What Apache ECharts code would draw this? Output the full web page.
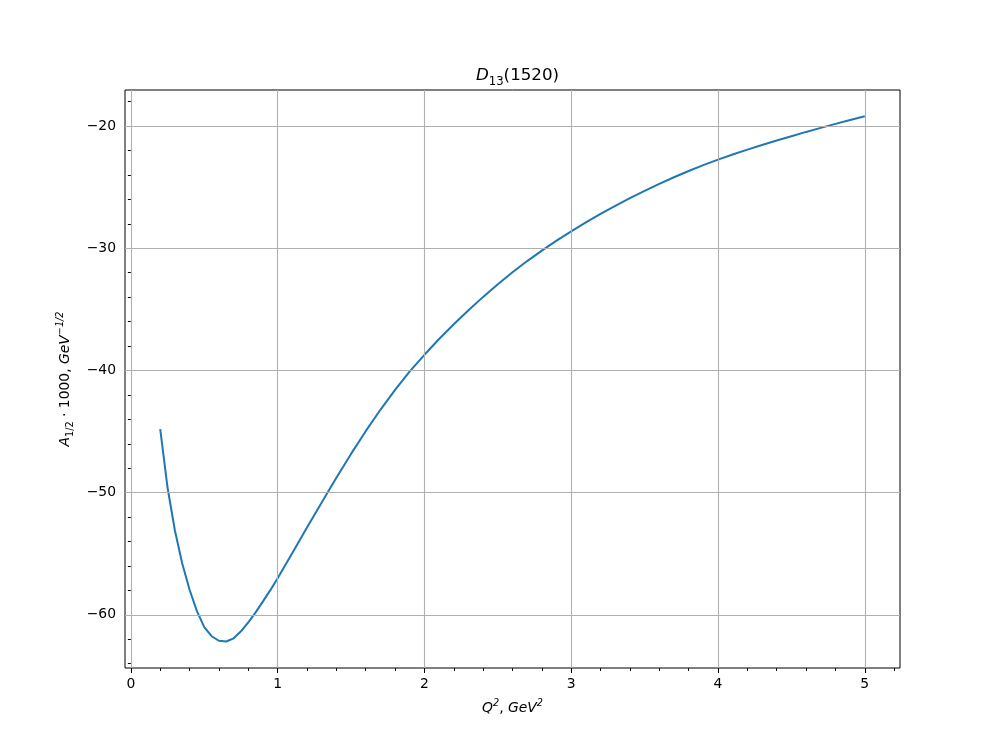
<!DOCTYPE html>
<html>
<head>
<meta charset="utf-8">
<script src="https://cdn.jsdelivr.net/npm/echarts@6/dist/echarts.min.js"></script>
<style>
html,body{margin:0;padding:0;background:#fff;}
#chart{width:1000px;height:750px;}
</style>
</head>
<body>
<div id="chart"></div>
<script>
const xValues = [0.20,0.25,0.30,0.35,0.40,0.45,0.50,0.55,0.60,0.65,0.70,0.75,0.80,0.85,0.90,0.95,1.00,
  1.1,1.2,1.3,1.4,1.5,1.6,1.7,1.8,1.9,2.0,2.1,2.2,2.3,2.4,2.5,2.6,2.7,2.8,2.9,3.0,
  3.1,3.2,3.3,3.4,3.5,3.6,3.7,3.8,3.9,4.0,4.1,4.2,4.3,4.4,4.5,4.6,4.7,4.8,4.9,5.0];
const yValues = [-44.8,-49.6,-53.1,-55.8,-57.95,-59.7,-61.0,-61.75,-62.12,-62.18,-61.92,-61.35,-60.62,-59.8,-58.9,-57.98,-57.0,
  -54.94,-52.86,-50.8,-48.78,-46.83,-44.97,-43.22,-41.59,-40.08,-38.72,-37.43,-36.22,-35.07,-33.98,-32.94,-31.97,-31.05,-30.19,-29.38,-28.62,
  -27.89,-27.19,-26.53,-25.9,-25.3,-24.73,-24.19,-23.68,-23.2,-22.75,-22.33,-21.93,-21.55,-21.18,-20.83,-20.48,-20.15,-19.82,-19.5,-19.2];
const majorX = [0,1,2,3,4,5];
const minorX = [0.2,0.4,0.6,0.8,1.2,1.4,1.6,1.8,2.2,2.4,2.6,2.8,3.2,3.4,3.6,3.8,4.2,4.4,4.6,4.8,5.2];
const majorY = [-60,-50,-40,-30,-20];
const minorY = [-64,-62,-58,-56,-54,-52,-48,-46,-44,-42,-38,-36,-34,-32,-28,-26,-24,-22,-18];
const xRange = [-0.04, 5.24];
const yRange = [-64.35, -17.05];

const FONT = 'DejaVu Sans';
const mathRich = {
  n: {fontFamily: FONT, fontSize: 13.9, color: '#000', lineHeight: 20},
  i: {fontFamily: FONT, fontSize: 13.9, fontStyle: 'italic', color: '#000', lineHeight: 20},
  sub: {fontFamily: FONT, fontSize: 9.7, color: '#000', lineHeight: 10, verticalAlign: 'bottom'},
  sup: {fontFamily: FONT, fontSize: 9.7, fontStyle: 'italic', color: '#000', lineHeight: 10, verticalAlign: 'top'}
};
const titleRich = {
  n: {fontFamily: FONT, fontSize: 16.7, fontWeight: 'normal', color: '#000', lineHeight: 24},
  i: {fontFamily: FONT, fontSize: 16.7, fontWeight: 'normal', fontStyle: 'italic', color: '#000', lineHeight: 24},
  sub: {fontFamily: FONT, fontSize: 11.7, fontWeight: 'normal', color: '#000', lineHeight: 12, verticalAlign: 'bottom'}
};
const minus = v => String(v).replace('-', '\u2212');

const chart = echarts.init(document.getElementById('chart'), null, {renderer: 'canvas'});
const tickStyle = {color: '#000', width: 1};

chart.setOption({
  animation: false,
  backgroundColor: '#fff',
  title: {
    text: '{i|D}{sub|13}{n|(1520)}',
    left: 512.5, top: 59, textAlign: 'center',
    textStyle: {fontWeight: 'normal', rich: titleRich}
  },
  grid: {left: 125, right: 100, top: 90, bottom: 82, show: true, borderColor: '#000', borderWidth: 1, backgroundColor: '#fff'},
  xAxis: [{
    type: 'value', min: xRange[0], max: xRange[1], position: 'bottom',
    axisLine: {show: false},
    axisTick: {show: true, inside: false, length: 5, lineStyle: tickStyle, customValues: majorX},
    axisLabel: {show: true, margin: 9, color: '#000', fontFamily: FONT, fontSize: 13.9, customValues: majorX, formatter: minus},
    splitLine: {show: false},
    name: '{i|Q}{sup|2}{n|, }{i|GeV}{sup|2}',
    nameLocation: 'middle', nameGap: 30,
    nameTextStyle: {rich: mathRich, verticalAlign: 'top'}
  }, {
    type: 'value', min: xRange[0], max: xRange[1], position: 'bottom',
    axisLine: {show: false},
    axisTick: {show: true, inside: false, length: 3, lineStyle: tickStyle, customValues: minorX},
    axisLabel: {show: false},
    splitLine: {show: false}
  }],
  yAxis: [{
    type: 'value', min: yRange[0], max: yRange[1], position: 'left',
    axisLine: {show: false},
    axisTick: {show: true, inside: false, length: 5, lineStyle: tickStyle, customValues: majorY},
    axisLabel: {show: true, margin: 9, color: '#000', fontFamily: FONT, fontSize: 13.9, customValues: majorY, formatter: minus},
    splitLine: {show: false},
    name: '{i|A}{sub|1/2}{n| · 1000, }{i|GeV}{sup|−1/2}',
    nameLocation: 'middle', nameGap: 48, nameRotate: 90,
    nameTextStyle: {rich: mathRich}
  }, {
    type: 'value', min: yRange[0], max: yRange[1], position: 'left',
    axisLine: {show: false},
    axisTick: {show: true, inside: false, length: 3, lineStyle: tickStyle, customValues: minorY},
    axisLabel: {show: false},
    splitLine: {show: false}
  }],
  series: [{
    type: 'line', data: [], z: 1, silent: true,
    markLine: {
      silent: true, symbol: 'none', label: {show: false}, animation: false,
      lineStyle: {color: '#b0b0b0', width: 1.1, type: 'solid'},
      emphasis: {disabled: true},
      data: majorX.map(v => ({xAxis: v})).concat(majorY.map(v => ({yAxis: v})))
    }
  }, {
    type: 'line', z: 3,
    data: xValues.map((x, k) => [x, yValues[k]]),
    showSymbol: false, symbol: 'none',
    lineStyle: {color: '#1f77b4', width: 2},
    itemStyle: {color: '#1f77b4'}
  }]
});
</script>
</body>
</html>
